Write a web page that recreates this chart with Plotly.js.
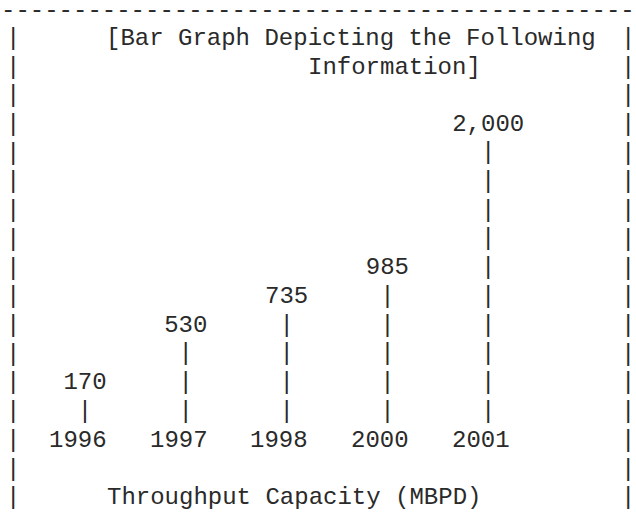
<!DOCTYPE html>
<html><head><meta charset="utf-8">
<script src="https://cdn.plot.ly/plotly-3.0.1.min.js"></script>
<style>html,body{margin:0;padding:0;background:#fff;}</style>
</head><body><div id="chart" style="width:636px;height:518px;"></div>
<script>
// ---- data ----
const years = ['1996', '1997', '1998', '2000', '2001'];
const capacity = [170, 530, 735, 985, 2000];
const titleLines = ['[Bar Graph Depicting the Following', 'Information]'];
const axisTitle = 'Throughput Capacity (MBPD)';
const unitsPerRow = 200; // MBPD represented by one text row of the ASCII chart

// ---- text grid geometry ----
const W = 636, H = 518, CW = 14.4, X0 = 13, RH = 28.7, Y0 = 9.8;
const BASE_ROW = 15;         // row holding the year labels (value 0)
const FIRST_BAR_COL = 5, BAR_STEP = 7;
const FONT = {family: '"Courier New", "Liberation Mono", monospace', size: 24, color: '#2a2a2a'};
const colPx = c => X0 + CW * c;
const rowPx = r => Y0 + RH * r;
const nb = s => s.replace(/ /g, '\u00a0');

function paperText(text, col, row) {
  const L = text.length;
  return {xref: 'paper', yref: 'paper', x: colPx(col + (L - 1) / 2) / W, y: 1 - rowPx(row) / H,
    xanchor: 'center', yanchor: 'middle', text: nb(text), showarrow: false, font: FONT, borderpad: 0};
}
function rightEdgeText(text, row) {
  return {xref: 'paper', yref: 'paper', x: 1, y: 1 - rowPx(row) / H, xanchor: 'right', yanchor: 'middle',
    text: nb(text), showarrow: false, font: FONT, borderpad: 0};
}

const annotations = [];
const dashRow = rightEdgeText('-'.repeat(44), 0);
dashRow.height = 18; dashRow.valign = 'middle';
annotations.push(dashRow);
for (let r = 1; r <= 17; r++) {
  annotations.push(paperText('|', 0, r));
  annotations.push(rightEdgeText('|', r));
}
annotations.push(paperText(titleLines[0], 7, 1));
annotations.push(paperText(titleLines[1], 21, 2));
annotations.push(paperText(axisTitle, 7, 17));

// year labels on the value-0 row, through the axes (category index)
years.forEach((y, i) => {
  annotations.push({xref: 'x', yref: 'y', x: i, y: 0, xshift: -CW / 2, xanchor: 'center', yanchor: 'middle',
    text: y, showarrow: false, font: FONT, borderpad: 0});
});

// bars made of '|' rows, with value labels on top
const bx = [], by = [], bt = [];
years.forEach((yr, i) => {
  const n = Math.round(capacity[i] / unitsPerRow);
  for (let k = 1; k <= n; k++) { bx.push(yr); by.push(k * unitsPerRow); bt.push('|'); }
  bx.push(yr); by.push((n + 1) * unitsPerRow); bt.push(capacity[i].toLocaleString('en-US'));
});

const trace = {type: 'scatter', mode: 'text', x: bx, y: by, text: bt, textposition: 'middle center',
  textfont: FONT, hoverinfo: 'skip', cliponaxis: false, showlegend: false};

const pxToCat = p => (p - colPx(FIRST_BAR_COL)) / (CW * BAR_STEP);
const pxToVal = p => (BASE_ROW - (p - Y0) / RH) * unitsPerRow;

const layout = {
  width: W, height: H, autosize: false,
  margin: {l: 0, r: 0, t: 0, b: 0, pad: 0},
  paper_bgcolor: '#fff', plot_bgcolor: '#fff',
  xaxis: {type: 'category', categoryorder: 'array', categoryarray: years,
    range: [pxToCat(0), pxToCat(W)], visible: false, fixedrange: true},
  yaxis: {range: [pxToVal(H), pxToVal(0)], visible: false, fixedrange: true},
  annotations: annotations,
  showlegend: false
};
Plotly.newPlot('chart', [trace], layout, {staticPlot: true, displayModeBar: false});
</script></body></html>
